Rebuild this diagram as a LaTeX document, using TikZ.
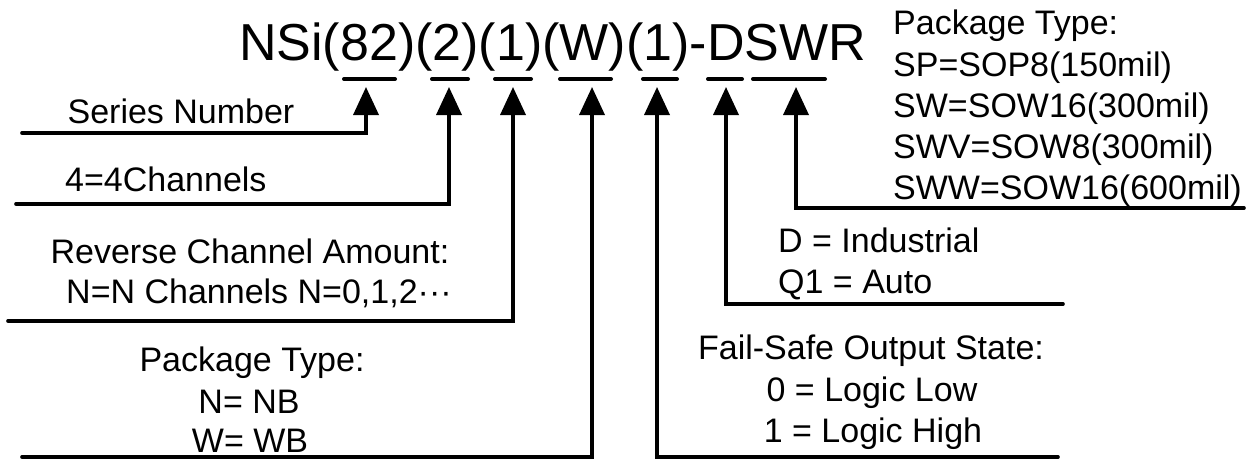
\documentclass[tikz,border=0pt]{standalone}
\usepackage{fontspec}
\setmainfont{Liberation Sans}
\usetikzlibrary{arrows.meta}
\begin{document}
\begin{tikzpicture}[x=1pt,y=-1pt,
  txt/.style={inner sep=0pt, font=\fontsize{34}{41}\selectfont},
  ttl/.style={inner sep=0pt, font=\fontsize{52}{60}\selectfont},
  bar/.style={line width=4pt, line cap=round},
  conn/.style={line width=3.6pt, line cap=round, line join=miter, -{Triangle[length=28pt,width=25pt]}}]
\useasboundingbox (0,0) rectangle (1257,460);
% title
\node[ttl, anchor=base west] (title) at (239,60) {NSi(82)(2)(1)(W)(1)-DSWR};
% bars
\draw[bar] (344,79) -- (395,79);
\draw[bar] (432,79) -- (468,79);
\draw[bar] (495,79) -- (531,79);
\draw[bar] (560,79) -- (611,79);
\draw[bar] (643,79) -- (677,79);
\draw[bar] (708,79) -- (742,79);
\draw[bar] (753,79) -- (825,79);
% arrow tips
\coordinate (t1) at (366,87);
\coordinate (t2) at (449,87);
\coordinate (t3) at (513,87);
\coordinate (t4) at (592,87);
\coordinate (t5) at (657,87);
\coordinate (t6) at (726,87);
\coordinate (t7) at (796,87);
% line free ends
\coordinate (s1) at (22,133);
\coordinate (s2) at (16,204);
\coordinate (s3) at (8,321);
\coordinate (s4) at (22,457);
\coordinate (s5) at (1058,457);
\coordinate (s6) at (1063,304);
\coordinate (s7) at (1244,208);
\draw[conn] (s1) -| (t1);
\draw[conn] (s2) -| (t2);
\draw[conn] (s3) -| (t3);
\draw[conn] (s4) -| (t4);
\draw[conn] (s5) -| (t5);
\draw[conn] (s6) -| (t6);
\draw[conn] (s7) -| (t7);
% left texts
\node[txt, anchor=base] (sn) at (181,123) {Series Number};
\node[txt, anchor=base west] (ch) at (65,191) {4=4Channels};
\node[txt, anchor=base] (rc1) at (250,263) {Reverse Channel Amount:};
\node[txt, anchor=base] (rc2) at (259,303) {N=N Channels N=0,1,2···};
\node[txt, anchor=base] (pk1) at (252,371) {Package Type:};
\node[txt, anchor=base] (pk2) at (249,413) {N= NB};
\node[txt, anchor=base] (pk3) at (250,452) {W= WB};
% right texts
\node[txt, anchor=base west] (rp1) at (893,35) {Package Type:};
\node[txt, anchor=base west] (rp2) at (893,76) {SP=SOP8(150mil)};
\node[txt, anchor=base west] (rp3) at (893,117) {SW=SOW16(300mil)};
\node[txt, anchor=base west] (rp4) at (893,158) {SWV=SOW8(300mil)};
\node[txt, anchor=base west] (rp5) at (893,199) {SWW=SOW16(600mil)};
\node[txt, anchor=base west] (gr1) at (778,252) {D = Industrial};
\node[txt, anchor=base west] (gr2) at (778,293) {Q1 = Auto};
\node[txt, anchor=base] (fs1) at (871,359) {Fail-Safe Output State:};
\node[txt, anchor=base] (fs2) at (872,401) {0 = Logic Low};
\node[txt, anchor=base] (fs3) at (873,442) {1 = Logic High};
\end{tikzpicture}
\end{document}
